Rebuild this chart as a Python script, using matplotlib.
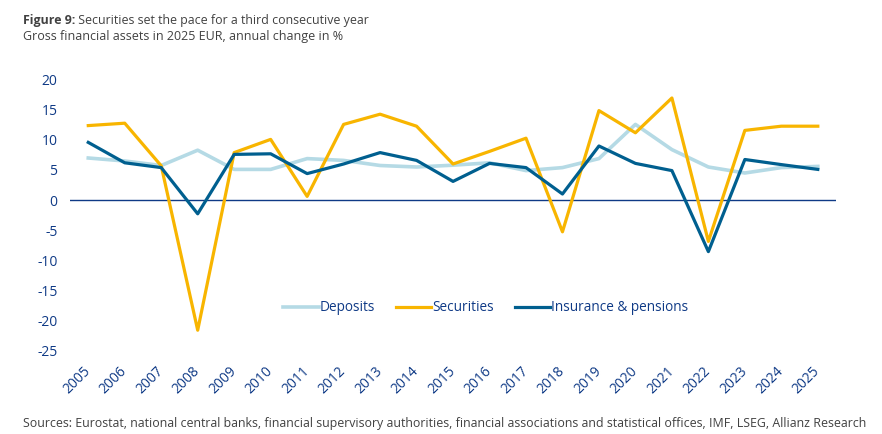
import matplotlib.pyplot as plt

plt.rcParams['font.family'] = ['Open Sans', 'DejaVu Sans']
plt.rcParams['axes.unicode_minus'] = False

years = list(range(2005, 2026))
deposits = [7.0, 6.5, 5.75, 8.3, 5.1, 5.1, 6.9, 6.6, 5.75, 5.5, 5.8,
            6.2, 4.9, 5.4, 6.9, 12.6, 8.4, 5.5, 4.5, 5.4, 5.6]
securities = [12.4, 12.8, 5.7, -21.7, 7.9, 10.1, 0.6, 12.6, 14.3, 12.3, 6.0,
              8.1, 10.3, -5.3, 14.9, 11.2, 17.0, -6.9, 11.6, 12.3, 12.3]
insurance = [9.6, 6.2, 5.4, -2.3, 7.6, 7.7, 4.4, 6.0, 7.9, 6.6, 3.1,
             6.1, 5.4, 1.0, 9.0, 6.1, 4.9, -8.6, 6.75, 5.9, 5.1]
yticks = [20, 15, 10, 5, 0, -5, -10, -15, -20, -25]

navy = '#0F3A86'
grey = '#414141'
fig = plt.figure(figsize=(8.82, 4.34), dpi=100)
ax = fig.add_axes([0.0794, 0.1935, 0.8685, 0.6222])

ax.plot(years, deposits, color='#B5DAE5', lw=2.6, label='Deposits')
ax.plot(years, securities, color='#F8B500', lw=2.3, label='Securities')
ax.plot(years, insurance, color='#005F8F', lw=2.3, label='Insurance & pensions')
ax.axhline(0, color=navy, lw=1, zorder=0)

ax.set_xlim(2004.5, 2025.5)
ax.set_ylim(-25, 20)
ax.set_yticks(yticks)
ax.set_xticks(years)
ax.set_xticklabels([str(y) for y in years], rotation=45, ha='right',
                   va='center', rotation_mode='anchor')
ax.tick_params(axis='both', length=0, colors=navy, labelsize=10)
ax.tick_params(axis='y', pad=9)
ax.tick_params(axis='x', pad=14)
for s in ax.spines.values():
    s.set_visible(False)

leg = ax.legend(loc='center', bbox_to_anchor=(0.543, 0.156), ncol=3, frameon=False,
                fontsize=9.8, handlelength=2.6, handletextpad=0.1, columnspacing=1.5)
for t in leg.get_texts():
    t.set_color(navy)

# title: bold prefix, then the rest right after it
head = fig.text(0.026, 0.953, 'Figure 9:', fontsize=8.9, color=grey,
                va='center', fontweight='bold')
ax.annotate(' Securities set the pace for a third consecutive year', xy=(1, 0.5),
            xycoords=head, va='center', ha='left', fontsize=8.9, color=grey,
            annotation_clip=False)
fig.text(0.026, 0.917, 'Gross financial assets in 2025 EUR, annual change in %',
         fontsize=9, color=grey, va='center')
fig.text(0.026, 0.025, 'Sources: Eurostat, national central banks, financial supervisory authorities, '
         'financial associations and statistical offices, IMF, LSEG, Allianz Research',
         fontsize=8.95, color=grey, va='center')

fig.savefig('out.png', dpi=100)
